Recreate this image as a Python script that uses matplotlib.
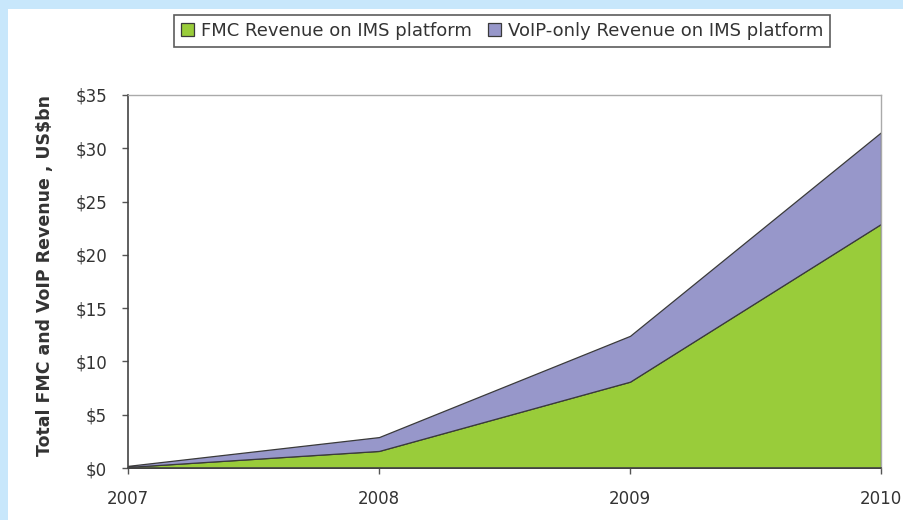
"""
Stacked area chart: FMC and VoIP-only revenue on IMS platform, 2007-2010.
"""

import matplotlib

matplotlib.use("Agg")

import matplotlib.pyplot as plt
from matplotlib.patches import Rectangle
from matplotlib.ticker import FuncFormatter

years = [2007, 2008, 2009, 2010]
fmc_revenue = [0.1, 1.6, 8.1, 22.9]
voip_revenue = [0.1, 1.3, 4.3, 8.6]

series_labels = ["FMC Revenue on IMS platform", "VoIP-only Revenue on IMS platform"]
ylabel = "Total FMC and VoIP Revenue , US$bn"

GREEN = "#99cc3a"
PURPLE = "#9797ca"
BORDER_BLUE = "#c8e7fb"
TEXT = "#333333"

W, H = 904, 520
fig = plt.figure(figsize=(W / 100, H / 100), dpi=100)
fig.patch.set_facecolor(BORDER_BLUE)
# white card inside the light blue border
fig.patches.append(
    Rectangle((8 / W, 0), 1 - 8 / W, 1 - 9 / H, transform=fig.transFigure,
              facecolor="white", edgecolor="none", zorder=-10)
)

ax = fig.add_axes([128 / W, 1 - 468 / H, (881 - 128) / W, (468 - 95) / H])
ax.set_facecolor("white")

ax.stackplot(years, fmc_revenue, voip_revenue,
             colors=[GREEN, PURPLE], labels=series_labels,
             edgecolor="#3a3a3a", linewidth=0.9)

ax.set_xlim(years[0], years[-1])
ax.set_ylim(0, 35)
ax.set_xticks(years)
ax.set_yticks(range(0, 36, 5))
ax.yaxis.set_major_formatter(FuncFormatter(lambda v, _: f"${int(v)}"))

ax.tick_params(axis="both", direction="out", length=4, width=1,
               colors="#555555", labelcolor=TEXT, labelsize=12)
ax.tick_params(axis="x", pad=12)
ax.tick_params(axis="y", pad=11)

for side in ["left", "bottom"]:
    ax.spines[side].set_color("#444444")
    ax.spines[side].set_linewidth(1.2)
for side in ["top", "right"]:
    ax.spines[side].set_color("#aaaaaa")
    ax.spines[side].set_linewidth(1.0)

fig.text(45 / W, 1 - 276 / H, ylabel, rotation=90, ha="center", va="center",
         fontsize=12.5, fontweight="bold", color=TEXT)

leg = fig.legend(loc="center", bbox_to_anchor=(502 / W, 1 - 31 / H), ncol=2,
                 frameon=True, fancybox=False, fontsize=13,
                 handlelength=0.7, handleheight=0.7, handletextpad=0.4,
                 columnspacing=0.9, borderpad=0.4)
leg.get_frame().set_edgecolor("#333333")
leg.get_frame().set_linewidth(1.2)
for txt in leg.get_texts():
    txt.set_color(TEXT)

fig.savefig("out.png", dpi=100, facecolor=fig.get_facecolor())
